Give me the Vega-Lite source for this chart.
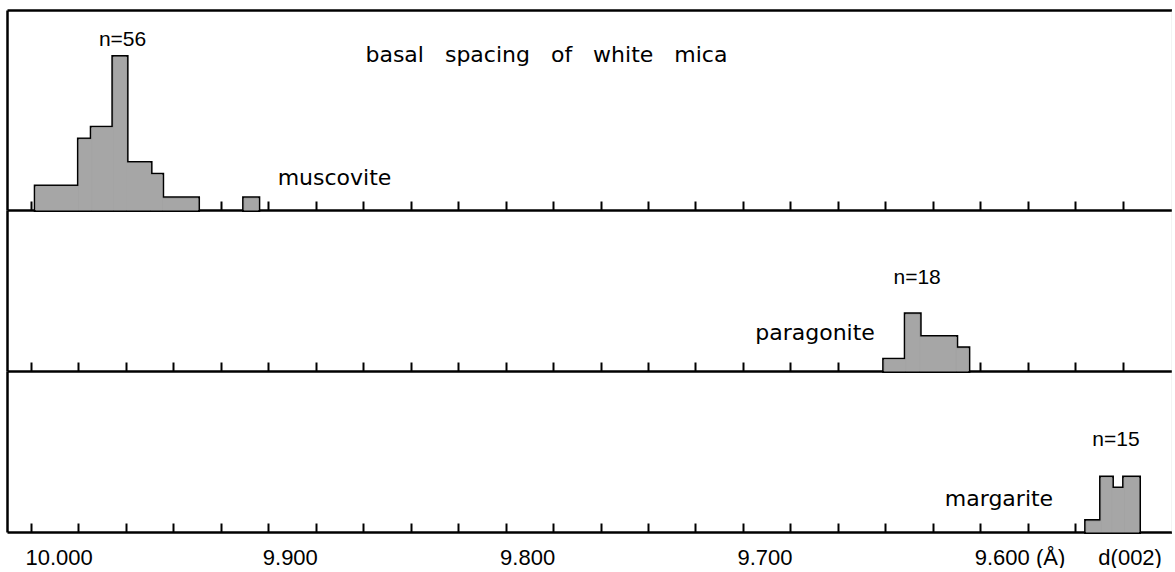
{
  "$schema": "https://vega.github.io/schema/vega-lite/v6.json",
  "background": "white",
  "padding": {"left": 7, "top": 10, "right": 0, "bottom": 0},
  "bounds": "flush",
  "spacing": 0,
  "config": {"view": {"stroke": null}, "axis": {"grid": false, "title": null}},
  "datasets": {
    "muscovite": [
      {"d1": 9.9980, "d2": 9.9798, "n": 2},
      {"d1": 9.9798, "d2": 9.9744, "n": 6},
      {"d1": 9.9744, "d2": 9.9653, "n": 7},
      {"d1": 9.9653, "d2": 9.9597, "n": 13},
      {"d1": 9.9597, "d2": 9.9496, "n": 4},
      {"d1": 9.9496, "d2": 9.9447, "n": 3},
      {"d1": 9.9447, "d2": 9.9296, "n": 1},
      {"d1": 9.9102, "d2": 9.9042, "n": 1}
    ],
    "paragonite": [
      {"d1": 9.6405, "d2": 9.6314, "n": 1},
      {"d1": 9.6314, "d2": 9.6255, "n": 5},
      {"d1": 9.6255, "d2": 9.6101, "n": 3},
      {"d1": 9.6101, "d2": 9.6050, "n": 2}
    ],
    "margarite": [
      {"d1": 9.5554, "d2": 9.5491, "n": 1},
      {"d1": 9.5491, "d2": 9.5445, "n": 5},
      {"d1": 9.5445, "d2": 9.5394, "n": 4},
      {"d1": 9.5394, "d2": 9.5331, "n": 5}
    ],
    "notes": [
      {"panel": "muscovite", "kind": "n", "label": "n=56", "d": 9.9614, "n": 13.9},
      {"panel": "muscovite", "kind": "word", "label": "basal\u00a0\u00a0 spacing\u00a0\u00a0 of\u00a0\u00a0 white\u00a0\u00a0 mica", "d": 9.7828, "n": 12.6},
      {"panel": "muscovite", "kind": "word", "label": "muscovite", "d": 9.8721, "n": 2.1},
      {"panel": "paragonite", "kind": "n", "label": "n=18", "d": 9.6266, "n": 7.67},
      {"panel": "paragonite", "kind": "word", "label": "paragonite", "d": 9.6696, "n": 2.7},
      {"panel": "margarite", "kind": "n", "label": "n=15", "d": 9.5428, "n": 7.9},
      {"panel": "margarite", "kind": "word", "label": "margarite", "d": 9.5921, "n": 2.4}
    ]
  },
  "vconcat": [
    {
      "width": 1165, "height": 200,
      "layer": [
        {
          "data": {"name": "muscovite"},
          "mark": {"type": "rect", "fill": "#a6a6a6", "stroke": "black", "strokeWidth": 4},
          "encoding": {
            "x": {"field": "d1", "type": "quantitative", "scale": {"domain": [9.5192, 10.0101], "reverse": true, "nice": false, "zero": false},
              "axis": {"orient": "bottom", "values": [10.0, 9.98, 9.96, 9.94, 9.92, 9.9, 9.88, 9.86, 9.84, 9.82, 9.8, 9.78, 9.76, 9.74, 9.72, 9.7, 9.68, 9.66, 9.64, 9.62, 9.6, 9.58, 9.56, 9.54],
                "labels": false, "ticks": true, "tickSize": -9, "tickWidth": 2, "tickColor": "black", "domain": true, "domainColor": "black", "domainWidth": 2.5}},
            "x2": {"field": "d2"},
            "y": {"field": "n", "type": "quantitative", "scale": {"domain": [0, 17], "nice": false},
              "axis": {"orient": "left", "labels": false, "ticks": false, "domain": true, "domainColor": "black", "domainWidth": 2.5}},
            "y2": {"datum": 0}
          }
        },
        {
          "data": {"name": "muscovite"},
          "mark": {"type": "rect", "fill": "#a6a6a6", "stroke": "#a6a6a6", "strokeWidth": 1},
          "encoding": {
            "x": {"field": "d1", "type": "quantitative", "scale": {"domain": [9.5192, 10.0101], "reverse": true, "nice": false, "zero": false}, "axis": null},
            "x2": {"field": "d2"},
            "y": {"field": "n", "type": "quantitative", "scale": {"domain": [0, 17], "nice": false}, "axis": null},
            "y2": {"datum": 0}
          }
        },
        {
          "data": {"name": "notes"},
          "transform": [{"filter": "datum.panel == 'muscovite' && datum.kind == 'word'"}],
          "mark": {"type": "text", "font": "DejaVu Sans", "fontSize": 22, "color": "black", "align": "center", "baseline": "alphabetic"},
          "encoding": {
            "x": {"field": "d", "type": "quantitative", "scale": {"domain": [9.5192, 10.0101], "reverse": true, "nice": false, "zero": false},
              "axis": {"orient": "top", "labels": false, "ticks": false, "domain": true, "domainColor": "black", "domainWidth": 2.5}},
            "y": {"field": "n", "type": "quantitative", "scale": {"domain": [0, 17], "nice": false},
              "axis": {"orient": "right", "labels": false, "ticks": false, "domain": true, "domainColor": "#cfcfcf", "domainWidth": 1.5}},
            "text": {"field": "label"}
          }
        },
        {
          "data": {"name": "notes"},
          "transform": [{"filter": "datum.panel == 'muscovite' && datum.kind == 'n'"}],
          "mark": {"type": "text", "font": "Liberation Sans", "fontSize": 21, "color": "black", "align": "center", "baseline": "alphabetic"},
          "encoding": {
            "x": {"field": "d", "type": "quantitative", "scale": {"domain": [9.5192, 10.0101], "reverse": true, "nice": false, "zero": false}, "axis": null},
            "y": {"field": "n", "type": "quantitative", "scale": {"domain": [0, 17], "nice": false}, "axis": null},
            "text": {"field": "label"}
          }
        }
      ],
      "resolve": {"axis": {"x": "independent", "y": "independent"}}
    },
    {
      "width": 1165, "height": 161,
      "layer": [
        {
          "data": {"name": "paragonite"},
          "mark": {"type": "rect", "fill": "#a6a6a6", "stroke": "black", "strokeWidth": 4},
          "encoding": {
            "x": {"field": "d1", "type": "quantitative", "scale": {"domain": [9.5192, 10.0101], "reverse": true, "nice": false, "zero": false},
              "axis": {"orient": "bottom", "values": [10.0, 9.98, 9.96, 9.94, 9.92, 9.9, 9.88, 9.86, 9.84, 9.82, 9.8, 9.78, 9.76, 9.74, 9.72, 9.7, 9.68, 9.66, 9.64, 9.62, 9.6, 9.58, 9.56, 9.54],
                "labels": false, "ticks": true, "tickSize": -9, "tickWidth": 2, "tickColor": "black", "domain": true, "domainColor": "black", "domainWidth": 2.5}},
            "x2": {"field": "d2"},
            "y": {"field": "n", "type": "quantitative", "scale": {"domain": [0, 14.2], "nice": false},
              "axis": {"orient": "left", "labels": false, "ticks": false, "domain": true, "domainColor": "black", "domainWidth": 2.5}},
            "y2": {"datum": 0}
          }
        },
        {
          "data": {"name": "paragonite"},
          "mark": {"type": "rect", "fill": "#a6a6a6", "stroke": "#a6a6a6", "strokeWidth": 1},
          "encoding": {
            "x": {"field": "d1", "type": "quantitative", "scale": {"domain": [9.5192, 10.0101], "reverse": true, "nice": false, "zero": false}, "axis": null},
            "x2": {"field": "d2"},
            "y": {"field": "n", "type": "quantitative", "scale": {"domain": [0, 14.2], "nice": false}, "axis": null},
            "y2": {"datum": 0}
          }
        },
        {
          "data": {"name": "notes"},
          "transform": [{"filter": "datum.panel == 'paragonite' && datum.kind == 'word'"}],
          "mark": {"type": "text", "font": "DejaVu Sans", "fontSize": 22, "color": "black", "align": "center", "baseline": "alphabetic"},
          "encoding": {
            "x": {"field": "d", "type": "quantitative", "scale": {"domain": [9.5192, 10.0101], "reverse": true, "nice": false, "zero": false}, "axis": null},
            "y": {"field": "n", "type": "quantitative", "scale": {"domain": [0, 14.2], "nice": false},
              "axis": {"orient": "right", "labels": false, "ticks": false, "domain": true, "domainColor": "#cfcfcf", "domainWidth": 1.5}},
            "text": {"field": "label"}
          }
        },
        {
          "data": {"name": "notes"},
          "transform": [{"filter": "datum.panel == 'paragonite' && datum.kind == 'n'"}],
          "mark": {"type": "text", "font": "Liberation Sans", "fontSize": 21, "color": "black", "align": "center", "baseline": "alphabetic"},
          "encoding": {
            "x": {"field": "d", "type": "quantitative", "scale": {"domain": [9.5192, 10.0101], "reverse": true, "nice": false, "zero": false}, "axis": null},
            "y": {"field": "n", "type": "quantitative", "scale": {"domain": [0, 14.2], "nice": false}, "axis": null},
            "text": {"field": "label"}
          }
        }
      ],
      "resolve": {"axis": {"x": "independent", "y": "independent"}}
    },
    {
      "width": 1165, "height": 161,
      "layer": [
        {
          "data": {"name": "margarite"},
          "mark": {"type": "rect", "fill": "#a6a6a6", "stroke": "black", "strokeWidth": 4},
          "encoding": {
            "x": {"field": "d1", "type": "quantitative", "scale": {"domain": [9.5192, 10.0101], "reverse": true, "nice": false, "zero": false},
              "axis": {"orient": "bottom", "values": [10.0, 9.98, 9.96, 9.94, 9.92, 9.9, 9.88, 9.86, 9.84, 9.82, 9.8, 9.78, 9.76, 9.74, 9.72, 9.7, 9.68, 9.66, 9.64, 9.62, 9.6, 9.58, 9.56, 9.54],
                "labels": true, "ticks": true, "tickSize": -9, "tickWidth": 2, "tickColor": "black", "domain": true, "domainColor": "black", "domainWidth": 2.5,
                "labelExpr": "abs(datum.value - 9.54) < 0.001 ? 'd(002)' : abs(datum.value - 9.6) < 0.001 ? '9.600 (Å)' : abs(datum.value * 10 - round(datum.value * 10)) < 0.001 ? format(datum.value, '.3f') : ''",
                "labelFont": "Liberation Sans", "labelFontSize": 22, "labelColor": "black", "labelBaseline": "alphabetic", "labelPadding": 41, "labelFlush": false, "labelOverlap": false,
                "labelAlign": {"condition": {"test": "abs(datum.value - 9.54) < 0.001", "value": "center"}, "value": "left"},
                "labelOffset": {"condition": {"test": "abs(datum.value - 9.54) < 0.001", "value": 7}, "value": -6}}},
            "x2": {"field": "d2"},
            "y": {"field": "n", "type": "quantitative", "scale": {"domain": [0, 14.8], "nice": false},
              "axis": {"orient": "left", "labels": false, "ticks": false, "domain": true, "domainColor": "black", "domainWidth": 2.5}},
            "y2": {"datum": 0}
          }
        },
        {
          "data": {"name": "margarite"},
          "mark": {"type": "rect", "fill": "#a6a6a6", "stroke": "#a6a6a6", "strokeWidth": 1},
          "encoding": {
            "x": {"field": "d1", "type": "quantitative", "scale": {"domain": [9.5192, 10.0101], "reverse": true, "nice": false, "zero": false}, "axis": null},
            "x2": {"field": "d2"},
            "y": {"field": "n", "type": "quantitative", "scale": {"domain": [0, 14.8], "nice": false}, "axis": null},
            "y2": {"datum": 0}
          }
        },
        {
          "data": {"name": "notes"},
          "transform": [{"filter": "datum.panel == 'margarite' && datum.kind == 'word'"}],
          "mark": {"type": "text", "font": "DejaVu Sans", "fontSize": 22, "color": "black", "align": "center", "baseline": "alphabetic"},
          "encoding": {
            "x": {"field": "d", "type": "quantitative", "scale": {"domain": [9.5192, 10.0101], "reverse": true, "nice": false, "zero": false}, "axis": null},
            "y": {"field": "n", "type": "quantitative", "scale": {"domain": [0, 14.8], "nice": false},
              "axis": {"orient": "right", "labels": false, "ticks": false, "domain": true, "domainColor": "#cfcfcf", "domainWidth": 1.5}},
            "text": {"field": "label"}
          }
        },
        {
          "data": {"name": "notes"},
          "transform": [{"filter": "datum.panel == 'margarite' && datum.kind == 'n'"}],
          "mark": {"type": "text", "font": "Liberation Sans", "fontSize": 21, "color": "black", "align": "center", "baseline": "alphabetic"},
          "encoding": {
            "x": {"field": "d", "type": "quantitative", "scale": {"domain": [9.5192, 10.0101], "reverse": true, "nice": false, "zero": false}, "axis": null},
            "y": {"field": "n", "type": "quantitative", "scale": {"domain": [0, 14.8], "nice": false}, "axis": null},
            "text": {"field": "label"}
          }
        }
      ],
      "resolve": {"axis": {"x": "independent", "y": "independent"}}
    }
  ]
}
